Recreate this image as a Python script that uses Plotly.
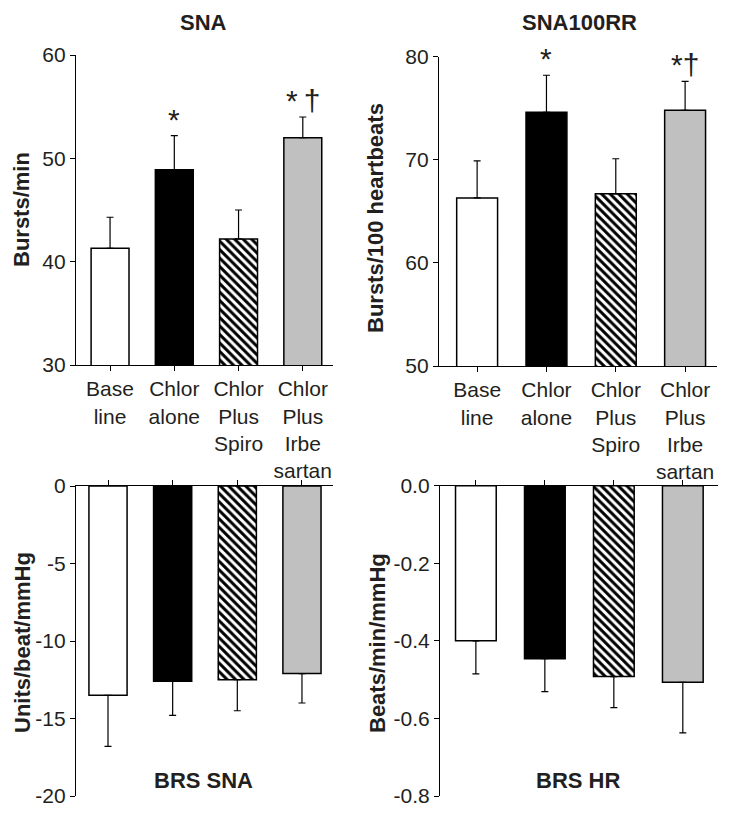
import plotly.graph_objects as go

W, H = 729, 816

categories = ["Base<br>line", "Chlor<br>alone", "Chlor<br>Plus<br>Spiro", "Chlor<br>Plus<br>Irbe<br>sartan"]

sna_mean = [41.3, 48.9, 42.2, 52.0]
sna_sem = [3.0, 3.3, 2.8, 2.0]

sna100_mean = [66.3, 74.6, 66.7, 74.8]
sna100_sem = [3.6, 3.6, 3.4, 2.8]

brs_sna_mean = [-13.5, -12.6, -12.5, -12.1]
brs_sna_sem = [3.3, 2.2, 2.0, 1.9]

brs_hr_mean = [-0.40, -0.446, -0.492, -0.507]
brs_hr_sem = [0.085, 0.085, 0.080, 0.13]

sna_ticks = [30, 40, 50, 60]
sna100_ticks = [50, 60, 70, 80]
brs_sna_ticks = [0, -5, -10, -15, -20]
brs_sna_ticktext = ["0", "-5", "-10", "-15", "-20"]
brs_hr_ticks = [0.0, -0.2, -0.4, -0.6, -0.8]
brs_hr_ticktext = ["0.0", "-0.2", "-0.4", "-0.6", "-0.8"]

sig_top_left = ["", "*", "", "*\u2009\u2020"]
sig_top_right = ["", "*", "", "*\u2020"]

FONT = "Liberation Sans, Arial, Helvetica, sans-serif"
TXT = "#231f20"

fill_colors = ["white", "black", "white", "#c0c0c0"]
patterns = ["", "", "\\", ""]
xs = [0, 1, 2, 3]


def px_dom(a, b, total):
    return [a / total, b / total]


def py_dom(top, bottom):
    return [1 - bottom / H, 1 - top / H]


fig = go.Figure()


def add_bars(xa, ya, means, sems, up):
    for i in range(4):
        marker = dict(color=fill_colors[i], line=dict(color="black", width=1.5))
        if patterns[i]:
            marker["pattern"] = dict(shape=patterns[i], fgcolor="black", bgcolor="white",
                                     size=6, solidity=0.5, fillmode="replace")
        fig.add_trace(go.Bar(
            x=[xs[i]], y=[means[i]], xaxis=xa, yaxis=ya, width=0.59,
            marker=marker,
            error_y=dict(type="data", symmetric=False,
                         array=[sems[i]] if up else [0],
                         arrayminus=[0] if up else [sems[i]],
                         color="black", thickness=1.2, width=3.5),
            showlegend=False,
        ))


add_bars("x", "y", sna_mean, sna_sem, True)
add_bars("x2", "y2", sna100_mean, sna100_sem, True)
add_bars("x3", "y3", brs_sna_mean, brs_sna_sem, False)
add_bars("x4", "y4", brs_hr_mean, brs_hr_sem, False)

axis_common = dict(showline=True, linecolor="black", linewidth=1.3, ticks="outside",
                   ticklen=5, tickwidth=1.2, tickcolor="black", showgrid=False,
                   zeroline=False, tickfont=dict(family=FONT, size=21, color=TXT),
                   fixedrange=True, automargin=False)

fig.update_layout(
    width=W, height=H, margin=dict(l=0, r=0, t=0, b=0, autoexpand=False),
    paper_bgcolor="white", plot_bgcolor="white", barmode="overlay",
    font=dict(family=FONT, color=TXT),
    xaxis=dict(domain=px_dom(76, 333, W), range=[-0.53, 3.47], anchor="y",
               tickvals=xs, ticktext=categories, **axis_common),
    yaxis=dict(domain=py_dom(55, 365), range=[30, 60], anchor="x",
               tickvals=sna_ticks, **axis_common),
    xaxis2=dict(domain=px_dom(439, 717, W), range=[-0.55, 3.46], anchor="y2",
                tickvals=xs, ticktext=categories, **axis_common),
    yaxis2=dict(domain=py_dom(56.7, 366), range=[50, 80], anchor="x2",
                tickvals=sna100_ticks, **axis_common),
    xaxis3=dict(domain=px_dom(76, 333, W), range=[-0.495, 3.48], anchor="y3",
                side="top", tickvals=xs, showticklabels=False, **axis_common),
    yaxis3=dict(domain=py_dom(486, 796), range=[-20, 0], anchor="x3",
                tickvals=brs_sna_ticks, ticktext=brs_sna_ticktext, **axis_common),
    xaxis4=dict(domain=px_dom(440, 718, W), range=[-0.52, 3.51], anchor="y4",
                side="top", tickvals=xs, showticklabels=False, **axis_common),
    yaxis4=dict(domain=py_dom(485.7, 796), range=[-0.8, 0], anchor="x4",
                tickvals=brs_hr_ticks, ticktext=brs_hr_ticktext, **axis_common),
)

ann = []


def label(text, x, y, size=22, bold=True, angle=0):
    ann.append(dict(text=f"<b>{text}</b>" if bold else text, x=x / W, y=1 - y / H,
                    xref="paper", yref="paper", showarrow=False, textangle=angle,
                    xanchor="center", yanchor="middle",
                    font=dict(family=FONT, size=size, color=TXT)))


label("SNA", 203, 22)
label("SNA100RR", 579, 22)
label("BRS SNA", 203, 780)
label("BRS HR", 578, 780)
label("Bursts/min", 22, 210, angle=-90)
label("Bursts/100 heartbeats", 376, 218, angle=-90)
label("Units/beat/mmHg", 22, 643, angle=-90)
label("Beats/min/mmHg", 377, 643, angle=-90)

for xa, ya, means, sems, sig in [("x", "y", sna_mean, sna_sem, sig_top_left),
                                  ("x2", "y2", sna100_mean, sna100_sem, sig_top_right)]:
    for i, s in enumerate(sig):
        if s:
            ann.append(dict(text=s, x=xs[i], y=means[i] + sems[i], xref=xa, yref=ya,
                            showarrow=False, xanchor="center", yanchor="bottom", yshift=-2,
                            font=dict(family=FONT, size=30, color=TXT)))

fig.update_layout(annotations=ann)
fig.write_html("out.html", config={"displayModeBar": False},
               post_script="document.body.style.margin='0';document.body.style.overflow='hidden';")
